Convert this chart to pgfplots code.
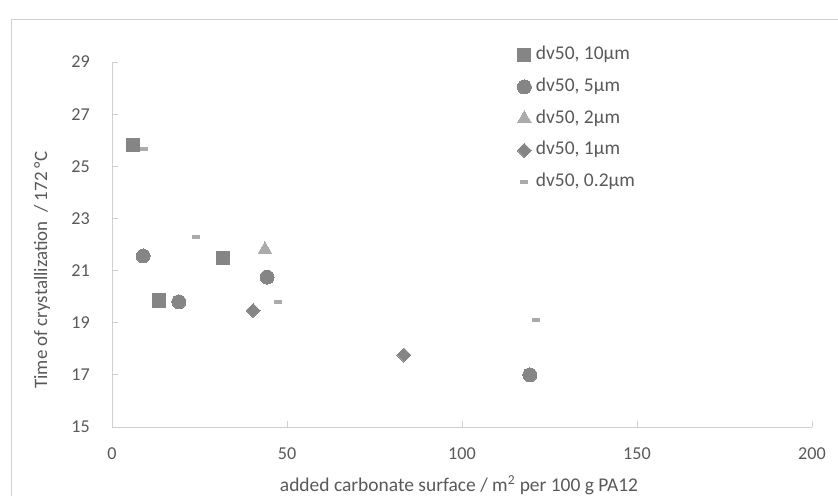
\documentclass[border=0pt]{standalone}
\usepackage{fontspec}
\setmainfont{Carlito}
\usepackage{pgfplots}
\pgfplotsset{compat=1.18}
\definecolor{txt}{HTML}{595959}
\definecolor{axl}{HTML}{D0D0D0}
\definecolor{dk}{HTML}{858585}
\definecolor{lt}{HTML}{ABABAB}
\pgfdeclareplotmark{dash}{\pgfpathrectangle{\pgfpoint{-3pt}{-1.5pt}}{\pgfpoint{6pt}{3pt}}\pgfusepathqfill}
\begin{document}
\begin{tikzpicture}[x=0.75pt,y=0.75pt]
\useasboundingbox (0,0) rectangle (838,-496);
\draw[axl, line width=0.75pt] (11,-496) -- (11,-19) -- (838,-19);
\coordinate (O) at (112,-427);
\begin{axis}[
  at={(O)}, anchor=south west,
  width=525pt, height=273.75pt, scale only axis,
  xmin=0, xmax=200, ymin=15, ymax=29,
  xtick={0,50,...,200}, ytick={15,17,...,29},
  axis x line=bottom, axis y line=left,
  axis line style={axl, line width=0.75pt, -},
  tick style={axl, line width=0.75pt},
  tick align=inside, major tick length=4.5pt,
  /pgf/number format/assume math mode=true,
  font=\fontsize{14.5}{17}\selectfont,
  ticklabel style={text=txt, font=\fontsize{13.6}{16}\selectfont},
  yticklabel style={inner sep=0pt, anchor=east, xshift=-16.5pt},
  xticklabel style={inner sep=0pt, anchor=north, yshift=-15pt},
  ylabel={Time of crystallization\ \ / 172 °C},
  xlabel={added carbonate surface / m\textsuperscript{2} per 100 g PA12},
  ylabel style={at={(axis description cs:-0.1,0.43)}, anchor=center, text=txt, font=\fontsize{14.2}{17}\selectfont},
  xlabel style={at={(axis description cs:0.4957,-0.159)}, anchor=center, text=txt, font=\fontsize{14.6}{17}\selectfont},
  legend style={at={(axis description cs:0.5786,1.044)}, anchor=north west,
    draw=none, fill=none, inner sep=0pt, row sep=10.3pt,
    font=\fontsize{14.6}{17}\selectfont, text=txt,
    nodes={inner sep=0pt, text height=10pt, text depth=3.5pt},
    /tikz/every odd column/.style={column sep=3.5pt}},
  legend cell align=left,
  legend image code/.code={\draw[#1] plot coordinates {(0pt,0pt)};},
]
\addplot[only marks, mark=square*, mark size=5pt, mark options={fill=dk, draw=dk, line width=0pt}]
  coordinates {(6,25.82) (13.4,19.85) (31.7,21.47)};
\addlegendentry{dv50, 10µm}
\addplot[only marks, mark=*, mark size=5.25pt, mark options={fill=dk, draw=dk, line width=0pt}]
  coordinates {(8.9,21.56) (19.1,19.8) (44.3,20.75) (119.4,17.0)};
\addlegendentry{dv50, 5µm}
\addplot[only marks, mark=triangle*, mark size=6pt, mark options={fill=lt, draw=lt, line width=0pt}]
  coordinates {(43.7,21.8)};
\addlegendentry{dv50, 2µm}
\addplot[only marks, mark=square*, mark size=3.7pt, mark options={fill=dk, draw=dk, line width=0pt, rotate=45}]
  coordinates {(40.3,19.47) (83.4,17.76)};
\addlegendentry{dv50, 1µm}
\addplot[only marks, mark=dash, mark options={fill=lt, draw=lt}]
  coordinates {(9.1,25.66) (24,22.29) (47.4,19.8) (121.1,19.1)};
\addlegendentry{dv50, 0.2µm}
\end{axis}
\end{tikzpicture}
\end{document}
